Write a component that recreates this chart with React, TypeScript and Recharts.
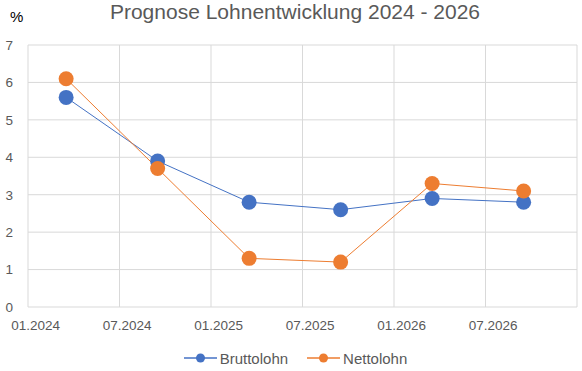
import React from "react";
import { LineChart, Line, XAxis, YAxis, CartesianGrid, Legend } from "recharts";

// Prognose Lohnentwicklung, Veränderung in %
const dates = ["03.2024", "09.2024", "03.2025", "09.2025", "03.2026", "09.2026"];
const bruttolohn = [5.6, 3.9, 2.8, 2.6, 2.9, 2.8];
const nettolohn = [6.1, 3.7, 1.3, 1.2, 3.3, 3.1];
const xLabels = ["01.2024", "07.2024", "01.2025", "07.2025", "01.2026", "07.2026"];
const yTicks = [0, 1, 2, 3, 4, 5, 6, 7];

const BLUE = "#4472C4";
const ORANGE = "#ED7D31";
const TEXT = "#595959";
const GRID = "#D9D9D9";
const FONT = "'Liberation Sans', Arial, sans-serif";

// month index since 01.2024, Excel date axis puts each point in the middle of its month
const monthIndex = (s: string) => {
  const [m, y] = s.split(".").map(Number);
  return (y - 2024) * 12 + (m - 1);
};
const TOTAL_MONTHS = 36;

const data = dates.map((d, i) => ({
  x: monthIndex(d) + 0.5,
  brutto: bruttolohn[i],
  netto: nettolohn[i],
}));

const labelTicks = xLabels.map((l) => monthIndex(l) + 0.5);
const labelByTick: Record<string, string> = {};
xLabels.forEach((l, i) => (labelByTick[String(labelTicks[i])] = l));
const gridMonths = [...xLabels.map(monthIndex), TOTAL_MONTHS];

const series = [
  { key: "brutto", name: "Bruttolohn", color: BLUE },
  { key: "netto", name: "Nettolohn", color: ORANGE },
];

function LegendContent() {
  return (
    <div style={{ display: "flex", justifyContent: "center", alignItems: "center", height: 26, paddingLeft: 14, fontFamily: FONT, fontSize: 15, color: TEXT }}>
      {series.map((s, i) => (
        <div key={s.key} style={{ display: "flex", alignItems: "center", marginLeft: i ? 19 : 0 }}>
          <svg width={33} height={12}>
            <line x1={0} y1={6} x2={33} y2={6} stroke={s.color} strokeWidth={1.5} />
            <circle cx={16.5} cy={6} r={4.5} fill={s.color} />
          </svg>
          <span style={{ marginLeft: 3 }}>{s.name}</span>
        </div>
      ))}
    </div>
  );
}

export default function App() {
  return (
    <div style={{ position: "absolute", left: 0, top: 0, width: 582, height: 371, background: "#fff", fontFamily: FONT }}>
      <div style={{ position: "absolute", top: 0, left: 0, width: 590, textAlign: "center", fontSize: 21, color: TEXT }}>
        Prognose Lohnentwicklung 2024 - 2026
      </div>
      <div style={{ position: "absolute", top: 8, left: 10, fontSize: 15, color: "#000" }}>%</div>
      <LineChart width={582} height={371} data={data} margin={{ top: 45, right: 5, left: 0, bottom: 0 }}>
        <CartesianGrid
          stroke={GRID}
          verticalCoordinatesGenerator={({ offset }: any) =>
            gridMonths.map((m) => offset.left + (offset.width * m) / TOTAL_MONTHS)
          }
        />
        <XAxis
          dataKey="x"
          type="number"
          domain={[0, TOTAL_MONTHS]}
          ticks={labelTicks}
          tickFormatter={(v: number) => labelByTick[String(v)] ?? ""}
          tickLine={false}
          axisLine={false}
          tickMargin={7}
          height={38}
          tick={{ fill: TEXT, fontSize: 13.5, fontFamily: FONT }}
          interval={0}
        />
        <YAxis
          domain={[0, 7]}
          ticks={yTicks}
          width={28}
          tickLine={false}
          axisLine={false}
          tickMargin={9}
          tick={{ fill: TEXT, fontSize: 13.5, fontFamily: FONT }}
        />
        <Legend verticalAlign="bottom" content={<LegendContent />} />
        {series.map((s) => (
          <Line
            key={s.key}
            dataKey={s.key}
            name={s.name}
            stroke={s.color}
            strokeWidth={1}
            dot={{ r: 7.5, fill: s.color, stroke: "none" }}
            activeDot={false}
            isAnimationActive={false}
          />
        ))}
      </LineChart>
    </div>
  );
}
